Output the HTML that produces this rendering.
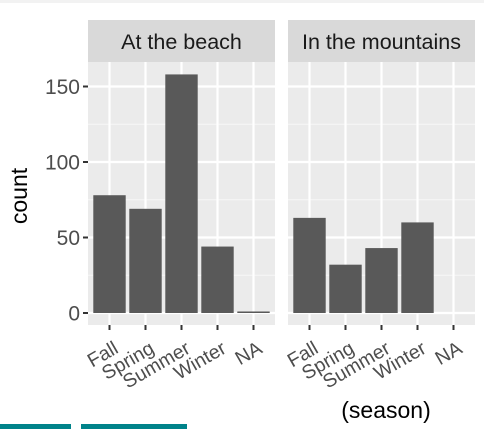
<!DOCTYPE html>
<html><head><meta charset="utf-8"><style>
body{margin:0;width:484px;height:429px;overflow:hidden;background:#fff;font-family:"Liberation Sans",sans-serif}
</style></head><body>
<svg width="484" height="429" id="chart" font-family="Liberation Sans, sans-serif">
<rect x="0" y="0" width="484" height="3" fill="#f2f2f2"/>
<rect x="0" y="424" width="71" height="5" fill="#00838a"/>
<rect x="81" y="424" width="106" height="5" fill="#00838a"/>
<text x="27" y="196" font-size="23" fill="#000" text-anchor="middle" transform="rotate(-90 27 196)">count</text>
<text x="386" y="418" font-size="23" fill="#000" text-anchor="middle">(season)</text>
</svg>
<script>
const categories=["Fall","Spring","Summer","Winter","NA"];
const facets=["At the beach","In the mountains"];
const beachValues=[78,69,158,44,1];
const mountainValues=[63,32,43,60,0];
const yTicks=[0,50,100,150];
const svg=document.getElementById('chart');
const NS='http://www.w3.org/2000/svg';
function mk(t,a){const e=document.createElementNS(NS,t);for(const k in a)e.setAttribute(k,a[k]);svg.appendChild(e);return e;}
const panelTop=62,panelBot=325,y0=313,yPer=1.51;
function yS(v){return y0-v*yPer;}
const panels=[{x:88,vals:beachValues},{x:288,vals:mountainValues}];
const step=36;
function xS(p,i){return p.x+21.5+i*step;}
panels.forEach((p,pi)=>{
  const w=187;
  let s=mk('rect',{x:p.x,y:20,width:w,height:42,fill:'#d9d9d9'});
  
  
  let st=mk('text',{x:p.x+w/2,y:49,'font-size':21.5,fill:'#1a1a1a','text-anchor':'middle'});st.textContent=facets[pi];
  
  
  let bg=mk('rect',{x:p.x,y:panelTop,width:w,height:panelBot-panelTop,fill:'#ebebeb'});
  
  
  [25,75,125].forEach(v=>{let l=mk('line',{x1:p.x,x2:p.x+w,y1:yS(v),y2:yS(v),stroke:'#f5f5f5','stroke-width':1.2});
    
    });
  yTicks.forEach(v=>{let l=mk('line',{x1:p.x,x2:p.x+w,y1:yS(v),y2:yS(v),stroke:'#fff','stroke-width':2.2});
    
    });
  categories.forEach((c,i)=>{let l=mk('line',{x1:xS(p,i),x2:xS(p,i),y1:panelTop,y2:panelBot,stroke:'#fff','stroke-width':2.2});
    
    });
  p.vals.forEach((v,i)=>{
    if(v<=0)return;
    const bw=32.4;
    let b=mk('rect',{x:xS(p,i)-bw/2,y:yS(v),width:bw,height:Math.max(yS(0)-yS(v),1),fill:'#595959'});
    
    
  });
  categories.forEach((c,i)=>{
    let t=mk('line',{x1:xS(p,i),x2:xS(p,i),y1:panelBot,y2:panelBot+5,stroke:'#333','stroke-width':2});
    
    
    const tx=xS(p,i)+10,ty=352;
    let lb=mk('text',{x:tx,y:ty,'font-size':19.5,fill:'#4d4d4d','text-anchor':'end',transform:`rotate(-30 ${tx} ${ty})`});
    lb.textContent=c;
    
    
  });
});
yTicks.forEach(v=>{
  let t=mk('line',{x1:83,x2:88,y1:yS(v),y2:yS(v),stroke:'#333','stroke-width':2});
  
  
  let l=mk('text',{x:80,y:yS(v)+7.5,'font-size':21,fill:'#4d4d4d','text-anchor':'end'});
  l.textContent=v;
  
  
});
</script>
</body></html>
